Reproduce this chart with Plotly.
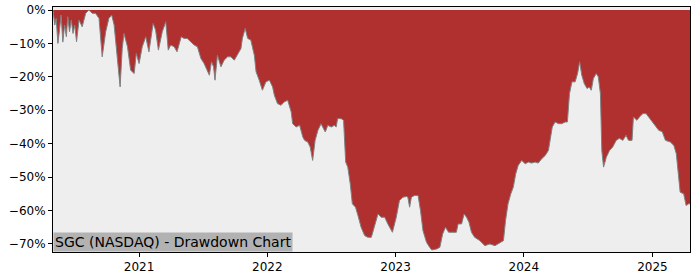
import plotly.graph_objects as go

dates = [
    "2020-05-01", "2020-05-06", "2020-05-10", "2020-05-15", "2020-05-20", "2020-05-24", "2020-05-29",
    "2020-06-03", "2020-06-08", "2020-06-12", "2020-06-17", "2020-06-22", "2020-06-27", "2020-07-02",
    "2020-07-07", "2020-07-14", "2020-07-23", "2020-08-02", "2020-08-11", "2020-08-21", "2020-08-30",
    "2020-09-09", "2020-09-18", "2020-09-28", "2020-10-07", "2020-10-15", "2020-10-22", "2020-10-31",
    "2020-11-08", "2020-11-14", "2020-11-19", "2020-11-29", "2020-12-08", "2020-12-18", "2020-12-24",
    "2021-01-01", "2021-01-10", "2021-01-20", "2021-01-29", "2021-02-10", "2021-02-17", "2021-02-25",
    "2021-03-08", "2021-03-18", "2021-03-25", "2021-04-01", "2021-04-11", "2021-04-19", "2021-05-01",
    "2021-05-09", "2021-05-18", "2021-05-28", "2021-06-07", "2021-06-16", "2021-06-26", "2021-07-05",
    "2021-07-15", "2021-07-20", "2021-07-26", "2021-08-01", "2021-08-05", "2021-08-12", "2021-08-22",
    "2021-08-31", "2021-09-10", "2021-09-19", "2021-09-29", "2021-10-08", "2021-10-18", "2021-10-22",
    "2021-10-30", "2021-11-06", "2021-11-15", "2021-11-25", "2021-11-30", "2021-12-09", "2021-12-18",
    "2021-12-28", "2022-01-07", "2022-01-16", "2022-01-21", "2022-01-30", "2022-02-09", "2022-02-18",
    "2022-02-28", "2022-03-10", "2022-03-14", "2022-03-24", "2022-04-03", "2022-04-12", "2022-04-17",
    "2022-04-26", "2022-05-03", "2022-05-10", "2022-05-17", "2022-05-25", "2022-06-03", "2022-06-10",
    "2022-06-15", "2022-06-22", "2022-07-02", "2022-07-11", "2022-07-16", "2022-07-20", "2022-07-30",
    "2022-08-06", "2022-08-12", "2022-08-18", "2022-08-25", "2022-08-31", "2022-09-09", "2022-09-16",
    "2022-09-25", "2022-10-05", "2022-10-14", "2022-10-24", "2022-11-03", "2022-11-12", "2022-11-21",
    "2022-12-01", "2022-12-10", "2022-12-23", "2023-01-03", "2023-01-12", "2023-01-22", "2023-02-01",
    "2023-02-05", "2023-02-10", "2023-02-15", "2023-02-24", "2023-03-06", "2023-03-13", "2023-03-20",
    "2023-03-30", "2023-04-08", "2023-04-14", "2023-04-28", "2023-05-07", "2023-05-15", "2023-05-23",
    "2023-06-01", "2023-06-14", "2023-06-23", "2023-06-28", "2023-07-08", "2023-07-15", "2023-07-22",
    "2023-07-29", "2023-08-05", "2023-08-14", "2023-08-29", "2023-09-12", "2023-09-26", "2023-10-11",
    "2023-10-25", "2023-11-04", "2023-11-10", "2023-11-17", "2023-11-25", "2023-12-02", "2023-12-09",
    "2023-12-16", "2023-12-26", "2024-01-05", "2024-01-14", "2024-01-23", "2024-02-02", "2024-02-11",
    "2024-02-21", "2024-03-02", "2024-03-11", "2024-03-16", "2024-03-22", "2024-03-30", "2024-04-09",
    "2024-04-18", "2024-04-28", "2024-05-04", "2024-05-10", "2024-05-17", "2024-05-26", "2024-06-02",
    "2024-06-08", "2024-06-14", "2024-06-21", "2024-06-29", "2024-07-05", "2024-07-11", "2024-07-17",
    "2024-07-25", "2024-07-31", "2024-08-06", "2024-08-10", "2024-08-15", "2024-08-23", "2024-09-01",
    "2024-09-10", "2024-09-20", "2024-09-29", "2024-10-09", "2024-10-18", "2024-10-25", "2024-11-04",
    "2024-11-08", "2024-11-18", "2024-11-25", "2024-12-05", "2024-12-14", "2024-12-21", "2024-12-31",
    "2025-01-10", "2025-01-19", "2025-01-29", "2025-02-07", "2025-02-21", "2025-03-03", "2025-03-10",
    "2025-03-17", "2025-03-21", "2025-03-31", "2025-04-07", "2025-04-14", "2025-04-18",
]

drawdown_pct = [
    0.0, -4.5, -2.5, -10.0, -5.5, -1.5, -9.6,
    -4.5, -8.0, -2.0, -6.5, -3.0, -7.0, -4.5,
    -9.5, -3.0, -5.0, -1.0, 0.0, -1.0, -1.0,
    -2.5, -14.0, -6.5, -2.5, -1.5, -4.5, -14.5,
    -23.0, -11.5, -7.0, -11.0, -18.0, -19.0, -13.0,
    -16.0, -11.0, -8.0, -12.5, -4.0, -6.0, -12.0,
    -6.5, -3.5, -12.0, -10.5, -11.0, -12.5, -8.0,
    -8.5, -8.5, -9.5, -10.5, -11.0, -14.5, -16.0,
    -18.5, -19.5, -15.5, -17.0, -21.0, -13.5, -17.0,
    -15.0, -14.0, -14.0, -15.0, -13.5, -11.5, -8.5,
    -5.5, -8.5, -9.0, -13.5, -18.5, -21.0, -24.0,
    -21.5, -21.0, -23.0, -25.5, -28.0, -28.5, -27.5,
    -27.0, -30.5, -34.0, -35.0, -34.5, -38.0, -39.0,
    -39.5, -41.0, -45.0, -39.0, -36.0, -34.0, -35.5,
    -36.5, -34.5, -35.0, -34.5, -35.0, -32.5, -32.5,
    -33.0, -45.5, -47.0, -52.0, -58.0, -59.0, -61.5,
    -65.0, -67.5, -68.0, -68.0, -64.0, -61.0, -62.0,
    -62.0, -64.0, -66.5, -62.0, -57.0, -56.0, -55.8,
    -56.0, -59.0, -56.0, -55.5, -55.5, -60.0, -66.0,
    -69.5, -71.0, -71.8, -71.5, -71.0, -67.0, -65.0,
    -66.5, -66.6, -66.5, -64.0, -64.0, -61.0, -62.0,
    -63.5, -66.5, -68.0, -69.0, -70.5, -70.0, -70.5,
    -69.5, -69.0, -63.0, -58.0, -55.0, -53.0, -49.0,
    -46.5, -45.0, -46.0, -45.5, -45.8, -45.5, -45.8,
    -44.5, -43.5, -42.0, -39.0, -35.0, -33.5, -34.0,
    -34.0, -33.5, -33.5, -25.0, -21.5, -21.5, -19.0,
    -15.5, -19.5, -22.0, -23.5, -23.0, -24.0, -20.5,
    -19.0, -20.0, -25.0, -42.0, -47.0, -44.0, -42.0,
    -41.0, -39.0, -38.4, -39.0, -37.5, -39.0, -39.0,
    -32.0, -33.0, -32.0, -31.0, -31.0, -32.0, -33.5,
    -35.0, -36.0, -36.4, -39.0, -39.5, -40.5, -43.0,
    -50.0, -54.5, -55.0, -58.5, -58.0, -58.0,
]

y_ticks = [0, -10, -20, -30, -40, -50, -60, -70]
y_tick_labels = ["0%", "\u221210%", "\u221220%", "\u221230%", "\u221240%", "\u221250%", "\u221260%", "\u221270%"]
title_text = "SGC (NASDAQ) - Drawdown Chart"

fig = go.Figure()
fig.add_trace(go.Scatter(
    x=dates, y=drawdown_pct, mode="lines", fill="tozeroy",
    fillcolor="#B03030", line=dict(color="#808080", width=1),
    hoverinfo="skip", showlegend=False,
))

axis_font = dict(family="DejaVu Sans", size=12, color="#000000")
fig.update_layout(
    template="none",
    width=700, height=280,
    margin=dict(l=53, r=10, t=7, b=28, autoexpand=False),
    paper_bgcolor="#FFFFFF", plot_bgcolor="#EEEEEE",
    font=axis_font,
    xaxis=dict(
        type="date", range=[dates[0], dates[-1]], automargin=False,
        dtick="M12", tick0="2021-01-01", tickformat="%Y",
        showgrid=False, zeroline=False,
        showline=True, linecolor="#000000", linewidth=1, mirror=True,
        ticks="outside", ticklen=4, tickcolor="#000000", tickfont=axis_font,
    ),
    yaxis=dict(
        range=[-72.4, 0.9], automargin=False,
        tickmode="array", tickvals=y_ticks, ticktext=y_tick_labels,
        showgrid=False, zeroline=False,
        showline=True, linecolor="#000000", linewidth=1, mirror=True,
        ticks="outside", ticklen=4, tickcolor="#000000", tickfont=axis_font,
    ),
    annotations=[dict(
        text=title_text, xref="paper", yref="paper", x=0, y=0,
        xanchor="left", yanchor="bottom", showarrow=False,
        bgcolor="#B2B2B2", borderpad=1, borderwidth=1, bordercolor="rgba(0,0,0,0)",
        height=16, width=236, align="left",
        font=dict(family="DejaVu Sans", size=14, color="#000000"),
    )],
)

fig.write_html("out.html")
